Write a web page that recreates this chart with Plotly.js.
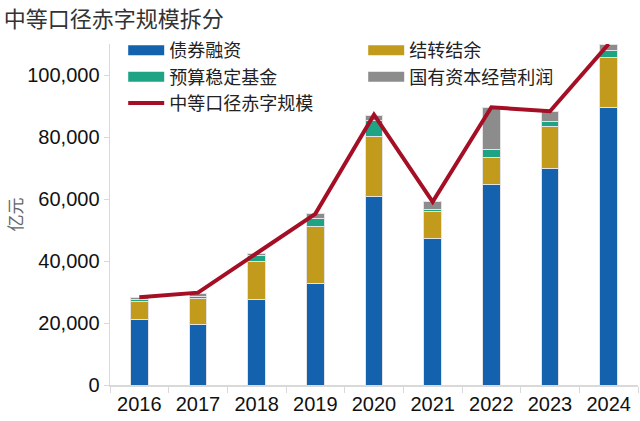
<!DOCTYPE html>
<html>
<head>
<meta charset="utf-8">
<script src="https://cdn.plot.ly/plotly-3.0.1.min.js"></script>
<style>
html,body{margin:0;padding:0;background:#fff;}
#chart{width:640px;height:421px;}
</style>
</head>
<body>
<div id="chart"></div>
<script>
const years = ['2016','2017','2018','2019','2020','2021','2022','2023','2024'];
const bondFinancing = [21000, 19600, 27600, 32900, 60700, 47400, 64800, 69800, 89500];
const carryOver = [5800, 8200, 12200, 18100, 19400, 8500, 8500, 13500, 16100];
const stabilizationFund = [800, 900, 1900, 2600, 5200, 700, 2800, 1600, 2200];
const soeProfits = [700, 900, 800, 1600, 1700, 2500, 13400, 3400, 2200];
const deficitTotal = [28300, 29800, 42500, 55200, 87200, 59100, 89600, 88300, 110000];
const yTicks = [0, 20000, 40000, 60000, 80000, 100000];

const cjk = '"Noto Sans CJK SC", "Noto Sans", sans-serif';
const latin = '"Liberation Sans", Arial, sans-serif';
const edge = {color: '#e3e3e3', width: 1};

const barSeries = [
  {name: '债券融资', y: bondFinancing, color: '#1461AD'},
  {name: '结转结余', y: carryOver, color: '#C39B1C'},
  {name: '预算稳定基金', y: stabilizationFund, color: '#1FA385'},
  {name: '国有资本经营利润', y: soeProfits, color: '#8C8C8C'}
];

const traces = [];
barSeries.forEach(s => traces.push({type: 'bar', name: s.name, x: years, y: s.y, showlegend: false,
  marker: {color: s.color, line: edge}}));
// legend swatches (wide rectangles like the reference)
barSeries.forEach(s => traces.push({type: 'scatter', mode: 'lines', name: s.name, x: [null], y: [null],
  hoverinfo: 'skip', line: {color: s.color, width: 11}}));
traces.push({type: 'scatter', mode: 'lines', name: '中等口径赤字规模', x: years, y: deficitTotal,
  line: {color: '#A50F26', width: 4}, cliponaxis: false});

const layout = {
  width: 640, height: 421,
  margin: {l: 110, r: 2, t: 44, b: 36},
  paper_bgcolor: '#fff', plot_bgcolor: '#fff',
  barmode: 'stack', bargap: 0.7,
  showlegend: true,
  title: {text: '中等口径赤字规模拆分', x: 0.006, xref: 'container', xanchor: 'left',
          y: 0.955, yref: 'container', yanchor: 'middle',
          font: {family: cjk, size: 22, color: '#333333'}},
  legend: {orientation: 'h', x: 0.025, xanchor: 'left', y: 1.035, yanchor: 'top',
           traceorder: 'normal', entrywidth: 189, entrywidthmode: 'pixels',
           bgcolor: 'rgba(0,0,0,0)', tracegroupgap: 0, itemwidth: 36,
           font: {family: cjk, size: 18, color: '#222'}},
  xaxis: {type: 'category', showgrid: false, showline: true, linecolor: '#d9d9d9', linewidth: 1.5,
          ticks: 'outside', tickson: 'boundaries', ticklen: 6, tickcolor: '#d9d9d9',
          tickfont: {family: latin, size: 20, color: '#111'}},
  yaxis: {range: [0, 110000], showgrid: false, zeroline: false, showline: true, linecolor: '#d9d9d9', linewidth: 1.5,
          ticks: 'outside', ticklen: 5, tickcolor: '#d9d9d9', tickvals: yTicks, tickformat: ',d',
          tickfont: {family: latin, size: 20, color: '#111'}},
  annotations: [{text: '亿元', xref: 'paper', yref: 'paper', x: -0.18, y: 0.5,
                 xanchor: 'center', yanchor: 'middle', textangle: -90, showarrow: false,
                 font: {family: cjk, size: 17, color: '#666'}}]
};

Plotly.newPlot('chart', traces, layout, {displayModeBar: false, staticPlot: true});
</script>
</body>
</html>
